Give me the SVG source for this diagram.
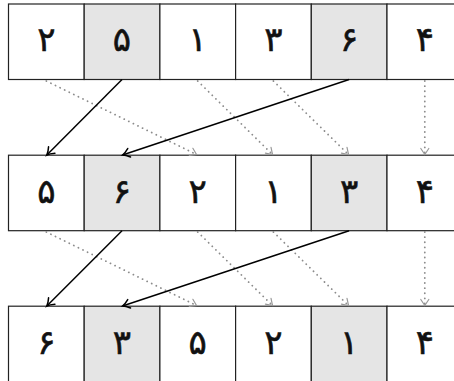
<svg xmlns="http://www.w3.org/2000/svg" width="454" height="381" viewBox="0 0 454 381">
<style>
.cell{fill:#ffffff;stroke:#222;stroke-width:1.2}
.hl{fill:#e5e5e5}
.num{font-family:"DejaVu Sans",sans-serif;font-size:34px;text-anchor:middle;fill:#111;stroke:#111;stroke-width:0.6}
.solid{stroke:#000;stroke-width:1.5;fill:none;marker-end:url(#ah)}
.dot{stroke:#8c8c8c;stroke-width:1.8;fill:none;stroke-dasharray:0.1 5;stroke-linecap:round;marker-end:url(#ahg)}
</style>
<defs>
<marker id="ah" markerUnits="userSpaceOnUse" orient="auto" markerWidth="14" markerHeight="14" viewBox="-10 -7 12 14" refX="0" refY="0">
<path d="M-7,-4.5 Q-3,-1 0,0 Q-3,1 -7,4.5" fill="none" stroke="#000" stroke-width="1.5" stroke-linecap="round"/>
</marker>
<marker id="ahg" markerUnits="userSpaceOnUse" orient="auto" markerWidth="14" markerHeight="14" viewBox="-10 -7 12 14" refX="0" refY="0">
<path d="M-6,-4 L0,0 L-6,4" fill="none" stroke="#999" stroke-width="1.2" stroke-linecap="round"/>
</marker>
</defs>

<g id="row1">
<g id="r1c1"><rect class="cell" x="8.5" y="4" width="75.7" height="75.5"/><text class="num" x="46.3" y="51">۲</text></g>
<g id="r1c2"><rect class="cell hl" x="84.2" y="4" width="75.7" height="75.5"/><text class="num" x="122" y="51">۵</text></g>
<g id="r1c3"><rect class="cell" x="159.9" y="4" width="75.7" height="75.5"/><text class="num" x="197.7" y="51">۱</text></g>
<g id="r1c4"><rect class="cell" x="235.6" y="4" width="75.7" height="75.5"/><text class="num" x="273.4" y="51">۳</text></g>
<g id="r1c5"><rect class="cell hl" x="311.3" y="4" width="75.7" height="75.5"/><text class="num" x="349.1" y="51">۶</text></g>
<g id="r1c6"><rect class="cell" x="387" y="4" width="75.7" height="75.5"/><text class="num" x="424.8" y="51">۴</text></g>
</g>

<g id="row2">
<g id="r2c1"><rect class="cell" x="8.5" y="155.2" width="75.7" height="75.5"/><text class="num" x="46.3" y="202.5">۵</text></g>
<g id="r2c2"><rect class="cell hl" x="84.2" y="155.2" width="75.7" height="75.5"/><text class="num" x="122" y="202.5">۶</text></g>
<g id="r2c3"><rect class="cell" x="159.9" y="155.2" width="75.7" height="75.5"/><text class="num" x="197.7" y="202.5">۲</text></g>
<g id="r2c4"><rect class="cell" x="235.6" y="155.2" width="75.7" height="75.5"/><text class="num" x="273.4" y="202.5">۱</text></g>
<g id="r2c5"><rect class="cell hl" x="311.3" y="155.2" width="75.7" height="75.5"/><text class="num" x="349.1" y="202.5">۳</text></g>
<g id="r2c6"><rect class="cell" x="387" y="155.2" width="75.7" height="75.5"/><text class="num" x="424.8" y="202.5">۴</text></g>
</g>

<g id="row3">
<g id="r3c1"><rect class="cell" x="8.5" y="306.2" width="75.7" height="75.5"/><text class="num" x="46.3" y="354">۶</text></g>
<g id="r3c2"><rect class="cell hl" x="84.2" y="306.2" width="75.7" height="75.5"/><text class="num" x="122" y="354">۳</text></g>
<g id="r3c3"><rect class="cell" x="159.9" y="306.2" width="75.7" height="75.5"/><text class="num" x="197.7" y="354">۵</text></g>
<g id="r3c4"><rect class="cell" x="235.6" y="306.2" width="75.7" height="75.5"/><text class="num" x="273.4" y="354">۲</text></g>
<g id="r3c5"><rect class="cell hl" x="311.3" y="306.2" width="75.7" height="75.5"/><text class="num" x="349.1" y="354">۱</text></g>
<g id="r3c6"><rect class="cell" x="387" y="306.2" width="75.7" height="75.5"/><text class="num" x="424.8" y="354">۴</text></g>
</g>

<g id="connectors">
<line class="dot" x1="46.3" y1="81" x2="196.5" y2="154.5"/>
<line class="dot" x1="197.7" y1="81" x2="272.5" y2="154.5"/>
<line class="dot" x1="273.4" y1="81" x2="348.5" y2="154.5"/>
<line class="dot" x1="424.8" y1="81" x2="424.8" y2="154.5"/>
<line class="solid" x1="122" y1="79.5" x2="46.8" y2="155"/>
<line class="solid" x1="349.1" y1="79.5" x2="122.5" y2="155"/>

<line class="dot" x1="46.3" y1="232" x2="196.5" y2="305.5"/>
<line class="dot" x1="197.7" y1="232" x2="272.5" y2="305.5"/>
<line class="dot" x1="273.4" y1="232" x2="348.5" y2="305.5"/>
<line class="dot" x1="424.8" y1="232" x2="424.8" y2="305.5"/>
<line class="solid" x1="122" y1="230.7" x2="46.8" y2="306"/>
<line class="solid" x1="349.1" y1="230.7" x2="122.5" y2="306"/>
</g>
</svg>
